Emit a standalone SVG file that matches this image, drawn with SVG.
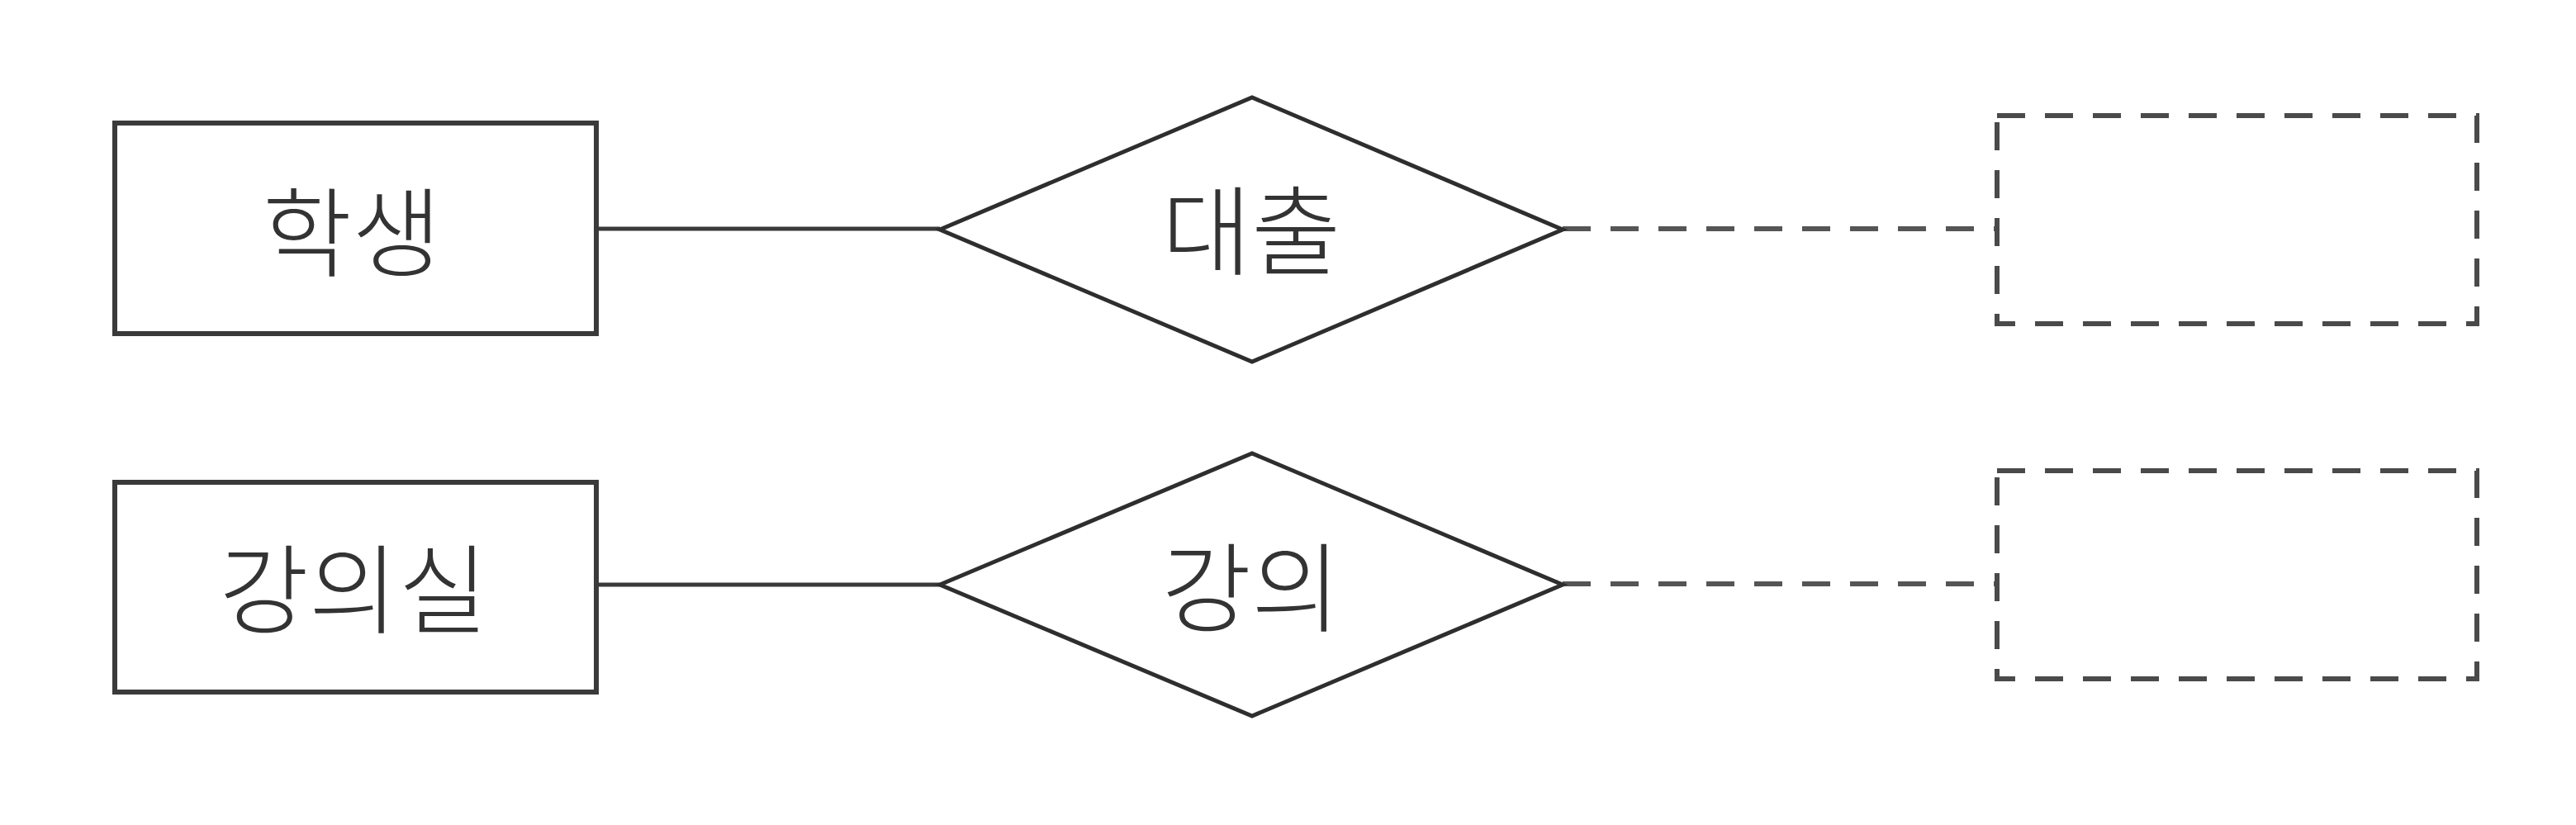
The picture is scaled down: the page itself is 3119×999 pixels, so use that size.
<svg xmlns="http://www.w3.org/2000/svg" width="3119" height="999" viewBox="0 0 3119 999">
  <style>
    .entity { fill: #ffffff; stroke: #3a3a3a; stroke-width: 6; }
    .rel { fill: #ffffff; stroke: #2e2e2e; stroke-width: 5; stroke-linejoin: miter; }
    .weak { fill: none; stroke: #4a4a4a; stroke-width: 6; stroke-dasharray: 34 24; }
    .solid { fill: none; stroke: #3a3a3a; stroke-width: 5; }
    .dash { fill: none; stroke: #555555; stroke-width: 6; stroke-dasharray: 34 24; }
    .label { font-family: "Noto Sans CJK KR", "Noto Sans", sans-serif; font-size: 118px; font-weight: 300; fill: #333333; text-anchor: middle; dominant-baseline: central; }
  </style>
  <rect width="3119" height="999" fill="#ffffff"/>
  <g id="connectors">
    <line class="solid" x1="722" y1="277" x2="1138" y2="277"/>
    <line class="dash" x1="1892" y1="277" x2="2418" y2="277"/>
    <line class="solid" x1="722" y1="708" x2="1138" y2="708"/>
    <line class="dash" x1="1892" y1="707" x2="2418" y2="707"/>
  </g>
  <g id="student">
    <rect class="entity" x="139" y="149" width="583" height="255"/>
    <text class="label" x="426" y="274">학생</text>
  </g>
  <g id="loan">
    <polygon class="rel" points="1138,278 1516,118 1892,278 1516,438"/>
    <text class="label" x="1515" y="272">대출</text>
  </g>
  <g id="weak1">
    <rect class="weak" x="2418" y="140" width="581" height="252"/>
  </g>
  <g id="classroom">
    <rect class="entity" x="139" y="584" width="583" height="254"/>
    <text class="label" x="428" y="706">강의실</text>
  </g>
  <g id="lecture">
    <polygon class="rel" points="1138,708 1516,549 1892,708 1516,867"/>
    <text class="label" x="1515" y="704">강의</text>
  </g>
  <g id="weak2">
    <rect class="weak" x="2418" y="570" width="581" height="252"/>
  </g>
</svg>
